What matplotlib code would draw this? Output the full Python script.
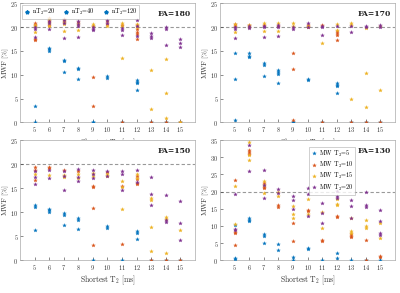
import numpy as np
import matplotlib
matplotlib.use('Agg')
import matplotlib.pyplot as plt
from matplotlib.lines import Line2D

plt.rcParams['font.family'] = 'serif'
plt.rcParams['font.serif'] = ['cmr10', 'DejaVu Serif']
plt.rcParams['mathtext.fontset'] = 'cm'
plt.rcParams['axes.formatter.use_mathtext'] = True

shortest_t2 = [5, 6, 7, 8, 9, 10, 11, 12, 13, 14, 15]
series_labels = ['MW T$_2$=5', 'MW T$_2$=10', 'MW T$_2$=15', 'MW T$_2$=20']
nt2_labels = ['nT$_2$=20', 'nT$_2$=40', 'nT$_2$=120']
colors = ['#0072BD', '#D95319', '#EDB120', '#7E2F8E']

# MWF values [%] per shortest T2 (several realisations each)
fa180_blue = [[3.4, 0.0], [15.6, 15.3, 15.0], [13.1, 12.9, 10.5], [11.5, 11.1, 9.0], [0.0, 0.0],
              [9.7, 9.4], [0.0], [8.9, 8.5, 8.2, 6.8], [0.0], [0.0], [0.0]]
fa180_orange = [[20.8, 20.4, 17.5, 17.2], [22.0, 21.2, 20.5], [21.8, 21.0], [21.0], [20.3, 9.5, 3.5],
                [21.3, 20.6], [20.5, 0.0], [20.5, 19.5, 19.0, 18.5, 17.6], [0.0], [0.0], [0.0]]
fa180_yellow = [[20.5, 20.2, 19.0], [21.6, 20.9, 20.2], [21.3, 20.6, 19.2], [20.7, 19.3], [20.7, 20.3],
                [20.3], [20.8, 20.3, 13.6], [20.6, 20.0], [11.0, 2.8], [13.2, 6.1, 0.9], [0.0]]
fa180_purple = [[20.0, 19.7, 17.9], [21.3, 20.8, 19.7], [21.4, 20.8, 17.7], [21.3, 20.7, 20.2, 18.0],
                [20.0, 19.6, 19.4], [21.4, 20.8], [19.9, 19.4, 18.4], [21.4, 20.3, 18.1],
                [18.8, 18.2, 17.8], [20.0, 19.7, 16.2], [17.5, 16.7, 15.9]]

fa170_blue = [[14.5, 9.1, 0.4], [14.5, 14.0, 13.8], [12.4, 12.1, 9.7], [10.9, 10.5, 10.2, 8.3], [0.0, 0.0],
              [9.2, 8.8], [0.0], [8.3, 7.9, 7.6, 6.2], [0.0], [0.0], [0.0]]
fa170_orange = [[20.6, 20.2], [20.4, 20.0], [20.5], [20.3], [14.6, 11.3, 0.5], [20.5, 20.1],
                [20.5, 0.0], [19.2, 18.7, 18.3, 17.2], [0.0], [0.0], [0.0]]
fa170_yellow = [[20.6, 18.9], [20.5], [20.8, 19.1], [20.9, 19.1], [20.8, 20.3], [20.2], [16.6],
                [20.6, 19.4], [20.8, 20.5, 4.9], [19.8, 10.4, 3.3], [20.2, 6.7]]
fa170_purple = [[20.0, 19.6, 17.8], [20.3, 19.9], [20.3, 20.0, 18.0], [20.5, 20.0, 18.2], [20.1, 19.6],
                [20.9, 20.0], [20.2, 20.0, 18.4], [20.3], [20.3, 18.9], [20.3, 20.1], [20.5, 20.0]]

fa150_blue = [[11.4, 11.0, 6.2], [10.7, 10.4, 10.1], [9.8, 9.5, 7.4], [8.7, 8.3, 6.5], [0.0],
              [7.2, 6.8], [0.0], [6.1, 5.7, 4.4], [0.0], [0.0], [0.0]]
fa150_orange = [[19.3, 18.8, 16.6], [19.4, 19.1], [18.7], [18.5], [15.4, 15.2, 10.9, 3.1], [18.4],
                [15.5, 3.4], [17.5, 16.8, 16.1, 15.8], [0.0], [0.0], [0.0]]
fa150_yellow = [[18.0], [17.8], [17.8, 17.3], [17.9, 17.1], [18.2, 17.5], [18.0, 17.5],
                [16.5, 15.3, 10.7], [18.0, 17.2], [13.0, 12.5, 6.9, 1.9], [9.0, 8.5, 1.4], [6.3]]
fa150_purple = [[18.5, 17.3, 15.8], [18.8, 17.1], [18.6, 17.6, 14.7], [18.9, 17.3, 16.4],
                [18.7, 18.0, 17.2], [18.6, 17.6], [18.6, 18.0, 14.7], [18.8, 16.2],
                [17.3, 13.8, 11.4], [13.6, 8.3, 7.9], [12.3, 7.7, 4.1]]

fa130_blue = [[10.2, 0.6, 0.2], [12.2, 11.8, 11.4], [7.6, 7.1, 5.0], [4.7, 2.9], [1.0, 0.0],
              [3.5, 3.2], [0.0], [2.0, 0.5], [0.0], [0.0], [0.0]]
fa130_orange = [[23.3, 8.3, 8.0, 4.3], [32.0, 31.5, 31.0], [22.5, 21.3, 21.0], [16.0, 15.6], [10.9, 5.5],
                [14.7, 14.3], [6.0, 5.7], [13.0, 12.5], [7.5, 7.0, 6.7], [5.9, 0.1], [1.2, 0.8]]
fa130_yellow = [[21.7, 10.4], [34.4, 30.5, 29.2], [23.0, 22.0, 19.5], [19.8, 18.6], [15.8, 13.5, 12.4],
                [17.8, 13.5], [14.0, 9.5], [17.7, 16.5, 16.2], [12.4, 8.5, 8.0], [11.8, 10.1, 9.4],
                [10.8, 6.5]]
fa130_purple = [[19.3, 9.0, 8.7], [33.6, 26.0], [26.3, 21.8, 18.0], [20.8, 19.5], [18.8, 17.5, 14.8],
                [21.1, 19.3, 12.9], [16.7, 13.8, 10.9], [20.2, 18.8, 18.0], [17.4, 15.7, 12.3],
                [20.0, 16.1, 15.5], [14.5, 11.3, 8.0, 7.4]]

panels = [
    ('FA=180', [fa180_blue, fa180_orange, fa180_yellow, fa180_purple], 25),
    ('FA=170', [fa170_blue, fa170_orange, fa170_yellow, fa170_purple], 25),
    ('FA=150', [fa150_blue, fa150_orange, fa150_yellow, fa150_purple], 25),
    ('FA=130', [fa130_blue, fa130_orange, fa130_yellow, fa130_purple], 35),
]

fig = plt.figure(figsize=(4.0, 2.93), dpi=100)
boxes = [[0.05, 0.5826, 0.4375, 0.4061], [0.55, 0.5826, 0.4375, 0.4061],
         [0.05, 0.112, 0.4375, 0.410], [0.55, 0.112, 0.4375, 0.410]]

for k, (title, series, ytop) in enumerate(panels):
    ax = fig.add_axes(boxes[k])
    ax.axhline(20, color='#999999', ls=(0, (3, 2)), lw=0.8, zorder=1)
    for vals, c, lab in zip(series, colors, series_labels):
        xs = [x for x, v in zip(shortest_t2, vals) for _ in v]
        ys = [y for v in vals for y in v]
        ax.plot(xs, ys, ls='none', marker='*', ms=2.8, mew=0.2, color=c, label=lab, zorder=3)
    ax.set_xlim(4, 16)
    ax.set_ylim(0, ytop)
    ax.set_xticks(shortest_t2)
    ax.set_yticks(np.arange(0, ytop + 1, 5))
    ax.tick_params(labelsize=4.5, length=2, width=0.4, direction='in', colors='#333333', pad=2,
                   top=False, right=False)
    ax.tick_params(axis='y', pad=1.2)
    for s in ax.spines.values():
        s.set_color('#aaaaaa')
        s.set_linewidth(0.5)
    ax.set_xlabel(r'$\mathrm{Shortest\ T_2\ [ms]}$', fontsize=5.5, labelpad=1.5, color='#333333')
    ax.set_ylabel(r'$\mathrm{MWF\ [\%]}$', fontsize=5.2, color='#333333')
    ax.yaxis.set_label_coords(-0.052, 0.5)
    ax.text(0.977, 0.906, title, transform=ax.transAxes, ha='right', va='center',
            fontsize=5.5, fontweight='bold', family='DejaVu Serif', color='#222222')
    if k == 0:
        handles = [Line2D([], [], ls='none', marker='*', ms=2.8, color=colors[0]) for _ in nt2_labels]
        ax.legend(handles, nt2_labels, ncol=3, loc='upper left', bbox_to_anchor=(0.0, 1.0),
                  fontsize=4.5, frameon=True, fancybox=False, edgecolor='#999999',
                  handlelength=1.0, handletextpad=0.3, columnspacing=1.2, borderpad=0.3,
                  borderaxespad=0.3).get_frame().set_linewidth(0.4)
    if k == 3:
        leg = ax.legend(loc='upper right', bbox_to_anchor=(0.79, 0.97), fontsize=4.5,
                        frameon=True, fancybox=False, edgecolor='#999999', handlelength=1.0,
                        handletextpad=0.3, borderpad=0.3, labelspacing=0.2)
        leg.get_frame().set_linewidth(0.4)

plt.savefig('out.png', dpi=100)
